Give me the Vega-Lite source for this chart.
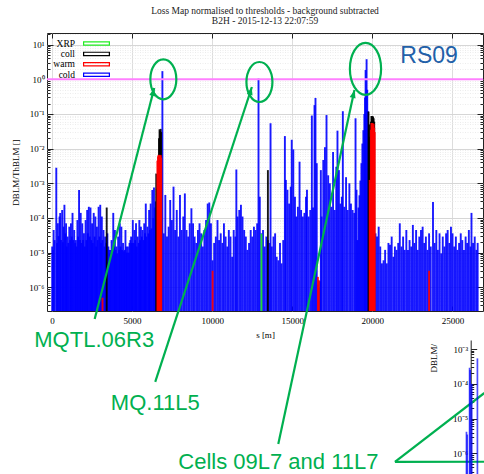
{
  "$schema": "https://vega.github.io/schema/vega-lite/v6.json",
  "autosize": {"type": "none"},
  "padding": {"left": 47, "top": 33, "right": 1, "bottom": 163},
  "width": 436,
  "height": 278,
  "title": {
    "text": ["Loss Map normalised to thresholds - background subtracted", "B2H - 2015-12-13 22:07:59"],
    "font": "Liberation Serif", "fontSize": 9.5, "fontWeight": "normal", "color": "#222",
    "anchor": "middle", "frame": "group", "offset": 5, "lineHeight": 10
  },
  "config": {
    "font": "Liberation Serif",
    "axis": {"labelFontSize": 9, "titleFontSize": 9, "titleFontWeight": "normal", "labelColor": "#000", "titleColor": "#000", "domainColor": "#222", "tickColor": "#222", "labelFont": "Liberation Serif", "titleFont": "Liberation Serif"}
  },
  "view": {"stroke": "#222", "strokeWidth": 1},
  "datasets": {
    "bars": [
      {"s":12,"v":1.5e-5,"t":"cold"},{"s":61,"v":1.2e-5,"t":"cold"},{"s":104,"v":4.5e-5,"t":"cold"},{"s":165,"v":2.3e-5,"t":"cold"},{"s":268,"v":2.8e-3,"t":"cold"},{"s":317,"v":1.9e-5,"t":"cold"},{"s":366,"v":7.0e-5,"t":"cold"},{"s":409,"v":3.0e-5,"t":"cold"},{"s":470,"v":1.1e-4,"t":"cold"},{"s":512,"v":1.4e-4,"t":"cold"},{"s":561,"v":2.3e-5,"t":"cold"},{"s":634,"v":1.7e-4,"t":"cold"},{"s":683,"v":2.0e-5,"t":"cold"},{"s":726,"v":5.6e-5,"t":"cold"},{"s":775,"v":2.4e-4,"t":"cold"},{"s":836,"v":3.6e-5,"t":"cold"},{"s":878,"v":7.0e-5,"t":"cold"},{"s":927,"v":1.5e-5,"t":"cold"},{"s":976,"v":2.9e-5,"t":"cold"},{"s":1019,"v":1.9e-5,"t":"cold"},{"s":1080,"v":5.6e-5,"t":"cold"},{"s":1141,"v":2.3e-5,"t":"cold"},{"s":1183,"v":7.0e-5,"t":"cold"},{"s":1232,"v":2.9e-5,"t":"cold"},{"s":1281,"v":1.4e-4,"t":"cold"},{"s":1324,"v":2.3e-5,"t":"cold"},{"s":1385,"v":4.5e-5,"t":"cold"},{"s":1446,"v":1.9e-5,"t":"cold"},{"s":1488,"v":2.3e-5,"t":"cold"},{"s":1537,"v":1.5e-5,"t":"cold"},{"s":1586,"v":8.7e-5,"t":"cold"},{"s":1629,"v":2.9e-5,"t":"cold"},{"s":1690,"v":6.4e-4,"t":"cold"},{"s":1751,"v":2.3e-5,"t":"cold"},{"s":1793,"v":1.4e-4,"t":"cold"},{"s":1842,"v":1.9e-5,"t":"cold"},{"s":1891,"v":7.0e-5,"t":"cold"},{"s":1934,"v":2.3e-5,"t":"cold"},{"s":1995,"v":3.6e-5,"t":"cold"},{"s":2056,"v":1.5e-5,"t":"cold"},{"s":2098,"v":8.7e-5,"t":"cold"},{"s":2147,"v":2.3e-5,"t":"cold"},{"s":2196,"v":1.7e-4,"t":"cold"},{"s":2239,"v":3.6e-5,"t":"cold"},{"s":2300,"v":2.1e-4,"t":"cold"},{"s":2361,"v":2.9e-5,"t":"cold"},{"s":2403,"v":2.0e-4,"t":"cold"},{"s":2452,"v":2.3e-5,"t":"cold"},{"s":2501,"v":7.0e-5,"t":"cold"},{"s":2544,"v":1.9e-5,"t":"cold"},{"s":2605,"v":1.4e-4,"t":"cold"},{"s":2666,"v":2.9e-5,"t":"cold"},{"s":2708,"v":1.1e-4,"t":"cold"},{"s":2757,"v":1.5e-5,"t":"cold"},{"s":2806,"v":5.6e-5,"t":"cold"},{"s":2849,"v":2.3e-5,"t":"cold"},{"s":2910,"v":2.1e-4,"t":"cold"},{"s":2971,"v":2.9e-5,"t":"cold"},{"s":3013,"v":2.4e-4,"t":"cold"},{"s":3062,"v":1.9e-5,"t":"cold"},{"s":3111,"v":1.1e-4,"t":"cold"},{"s":3154,"v":2.3e-5,"t":"cold"},{"s":3215,"v":4.5e-5,"t":"cold"},{"s":3276,"v":1.5e-5,"t":"cold"},{"s":3318,"v":2.9e-5,"t":"cold"},{"s":3367,"v":1.9e-5,"t":"cold"},{"s":3459,"v":3.6e-5,"t":"cold"},{"s":3520,"v":1.5e-5,"t":"cold"},{"s":3569,"v":1.2e-5,"t":"cold"},{"s":3623,"v":9.5e-6,"t":"cold"},{"s":3672,"v":1.2e-5,"t":"cold"},{"s":3721,"v":2.3e-5,"t":"cold"},{"s":3776,"v":1.1e-5,"t":"cold"},{"s":3825,"v":1.4e-4,"t":"cold"},{"s":3886,"v":1.5e-5,"t":"cold"},{"s":3928,"v":4.5e-5,"t":"cold"},{"s":3977,"v":1.2e-5,"t":"cold"},{"s":4026,"v":1.5e-5,"t":"cold"},{"s":4069,"v":9.5e-6,"t":"cold"},{"s":4130,"v":2.9e-5,"t":"cold"},{"s":4191,"v":1.2e-5,"t":"cold"},{"s":4233,"v":7.0e-5,"t":"cold"},{"s":4282,"v":1.5e-5,"t":"cold"},{"s":4331,"v":5.6e-5,"t":"cold"},{"s":4374,"v":1.2e-5,"t":"cold"},{"s":4435,"v":1.9e-5,"t":"cold"},{"s":4496,"v":1.1e-5,"t":"cold"},{"s":4538,"v":1.2e-5,"t":"cold"},{"s":4587,"v":4.5e-5,"t":"cold"},{"s":4636,"v":1.5e-5,"t":"cold"},{"s":4679,"v":1.0e-5,"t":"cold"},{"s":4740,"v":1.5e-5,"t":"cold"},{"s":4801,"v":1.0e-5,"t":"cold"},{"s":4843,"v":1.9e-5,"t":"cold"},{"s":4892,"v":2.3e-5,"t":"cold"},{"s":4941,"v":2.9e-5,"t":"cold"},{"s":4996,"v":1.9e-5,"t":"cold"},{"s":5045,"v":8.7e-5,"t":"cold"},{"s":5106,"v":1.9e-5,"t":"cold"},{"s":5148,"v":4.5e-5,"t":"cold"},{"s":5197,"v":2.3e-5,"t":"cold"},{"s":5246,"v":7.0e-5,"t":"cold"},{"s":5289,"v":1.5e-5,"t":"cold"},{"s":5350,"v":2.9e-5,"t":"cold"},{"s":5411,"v":1.9e-5,"t":"cold"},{"s":5453,"v":8.7e-5,"t":"cold"},{"s":5502,"v":2.3e-5,"t":"cold"},{"s":5551,"v":5.6e-5,"t":"cold"},{"s":5606,"v":2.9e-5,"t":"cold"},{"s":5655,"v":4.5e-5,"t":"cold"},{"s":5716,"v":2.3e-5,"t":"cold"},{"s":5758,"v":7.0e-5,"t":"cold"},{"s":5807,"v":3.6e-5,"t":"cold"},{"s":5856,"v":2.6e-4,"t":"cold"},{"s":5899,"v":2.9e-5,"t":"cold"},{"s":5960,"v":5.6e-5,"t":"cold"},{"s":6021,"v":3.6e-5,"t":"cold"},{"s":6063,"v":1.7e-4,"t":"cold"},{"s":6112,"v":4.5e-5,"t":"cold"},{"s":6161,"v":2.6e-4,"t":"cold"},{"s":6216,"v":5.0e-5,"t":"cold"},{"s":6265,"v":6.4e-4,"t":"cold"},{"s":6326,"v":1.0e-4,"t":"cold"},{"s":6368,"v":7.5e-4,"t":"cold"},{"s":6417,"v":2.0e-4,"t":"cold"},{"s":6466,"v":3.0e-4,"t":"cold"},{"s":6893,"v":1.72,"t":"cold"},
      {"s":6978,"v":3.6e-5,"t":"cold"},{"s":7076,"v":4.6e-4,"t":"cold"},{"s":7180,"v":2.9e-5,"t":"cold"},{"s":7283,"v":5.6e-5,"t":"cold"},{"s":7381,"v":3.3e-4,"t":"cold"},{"s":7485,"v":8.7e-5,"t":"cold"},{"s":7588,"v":8.0e-4,"t":"cold"},{"s":7686,"v":4.5e-5,"t":"cold"},{"s":7790,"v":1.7e-4,"t":"cold"},{"s":7893,"v":2.9e-5,"t":"cold"},{"s":7991,"v":4.6e-4,"t":"cold"},{"s":8095,"v":4.5e-5,"t":"cold"},{"s":8198,"v":1.1e-4,"t":"cold"},{"s":8296,"v":5.1e-4,"t":"cold"},{"s":8400,"v":4.5e-5,"t":"cold"},{"s":8503,"v":2.9e-5,"t":"cold"},{"s":8601,"v":7.0e-5,"t":"cold"},{"s":8705,"v":1.9e-4,"t":"cold"},{"s":8808,"v":7.0e-5,"t":"cold"},{"s":8906,"v":2.9e-5,"t":"cold"},{"s":9010,"v":1.9e-5,"t":"cold"},{"s":9113,"v":4.5e-5,"t":"cold"},{"s":9211,"v":7.0e-5,"t":"cold"},{"s":9315,"v":3.6e-5,"t":"cold"},{"s":9418,"v":1.5e-5,"t":"cold"},{"s":9516,"v":4.5e-5,"t":"cold"},{"s":9620,"v":8.7e-5,"t":"cold"},{"s":9723,"v":2.6e-4,"t":"cold"},{"s":9821,"v":2.8e-4,"t":"cold"},{"s":9925,"v":7.0e-5,"t":"cold"},{"s":10028,"v":6.0e-6,"t":"cold"},{"s":10126,"v":1.9e-5,"t":"cold"},{"s":10230,"v":2.9e-5,"t":"cold"},{"s":10333,"v":8.7e-5,"t":"cold"},{"s":10431,"v":2.3e-5,"t":"cold"},{"s":10535,"v":3.6e-5,"t":"cold"},{"s":10638,"v":1.9e-5,"t":"cold"},{"s":10736,"v":7.0e-5,"t":"cold"},{"s":10840,"v":2.9e-5,"t":"cold"},{"s":10943,"v":1.5e-5,"t":"cold"},{"s":11041,"v":4.5e-5,"t":"cold"},{"s":11145,"v":2.9e-5,"t":"cold"},{"s":11248,"v":7.6e-6,"t":"cold"},{"s":11346,"v":4.5e-5,"t":"cold"},{"s":11450,"v":2.9e-5,"t":"cold"},{"s":11511,"v":2.5e-3,"t":"cold"},{"s":11590,"v":1.1e-4,"t":"cold"},{"s":11694,"v":1.7e-4,"t":"cold"},{"s":11797,"v":2.4e-4,"t":"cold"},{"s":11895,"v":1.1e-4,"t":"cold"},{"s":11999,"v":4.5e-5,"t":"cold"},{"s":12102,"v":2.9e-5,"t":"cold"},{"s":12200,"v":1.2e-5,"t":"cold"},{"s":12304,"v":1.9e-5,"t":"cold"},{"s":12407,"v":4.5e-5,"t":"cold"},{"s":12505,"v":2.9e-5,"t":"cold"},{"s":12609,"v":5.6e-5,"t":"cold"},{"s":12712,"v":4.5e-5,"t":"cold"},{"s":12810,"v":7.0e-5,"t":"cold"},{"s":12895,"v":1.05,"t":"cold"},
      {"s":12975,"v":4.1e-4,"t":"cold"},{"s":13078,"v":3.6e-5,"t":"cold"},{"s":13176,"v":4.5e-5,"t":"cold"},{"s":13280,"v":1.5e-5,"t":"cold"},{"s":13383,"v":2.9e-5,"t":"cold"},{"s":13481,"v":2.3e-5,"t":"cold"},{"s":13585,"v":1.9e-5,"t":"cold"},{"s":13646,"v":5.4e-2,"t":"cold"},{"s":13725,"v":1.5e-5,"t":"cold"},{"s":13829,"v":2.9e-5,"t":"cold"},{"s":13932,"v":3.6e-5,"t":"cold"},{"s":14030,"v":7.6e-6,"t":"cold"},{"s":14134,"v":6.0e-6,"t":"cold"},{"s":14237,"v":1.9e-5,"t":"cold"},{"s":14335,"v":4.9e-6,"t":"cold"},{"s":14439,"v":2.3e-5,"t":"cold"},{"s":14542,"v":2.3e-2,"t":"cold"},{"s":14603,"v":1.25e-3,"t":"cold"},{"s":14701,"v":6.5e-4,"t":"cold"},{"s":14805,"v":2.6e-4,"t":"cold"},{"s":14908,"v":8.0e-4,"t":"cold"},{"s":14969,"v":1.8e-2,"t":"cold"},{"s":15067,"v":9.5e-3,"t":"cold"},{"s":15171,"v":4.1e-4,"t":"cold"},{"s":15250,"v":1.1e-4,"t":"cold"},{"s":15354,"v":2.1e-4,"t":"cold"},{"s":15457,"v":4.2e-3,"t":"cold"},{"s":15555,"v":1.7e-4,"t":"cold"},{"s":15659,"v":1.1e-4,"t":"cold"},{"s":15762,"v":1.4e-4,"t":"cold"},{"s":15860,"v":4.1e-4,"t":"cold"},{"s":15921,"v":6.5e-4,"t":"cold"},{"s":16025,"v":1.1e-4,"t":"cold"},{"s":16128,"v":1.7e-4,"t":"cold"},{"s":16226,"v":0.09,"t":"cold"},{"s":16300,"v":2.0e-4,"t":"cold"},{"s":16391,"v":0.18,"t":"cold"},{"s":16452,"v":0.29,"t":"cold"},{"s":16531,"v":3.8e-3,"t":"cold"},{"s":16604,"v":1.2e-6,"t":"cold"},{"s":16665,"v":1.0e-6,"t":"cold"},{"s":16738,"v":1.5e-6,"t":"cold"},{"s":16787,"v":2.4e-3,"t":"cold"},{"s":16836,"v":1.1e-4,"t":"cold"},{"s":16940,"v":4.7e-3,"t":"cold"},{"s":17043,"v":1.1e-2,"t":"cold"},{"s":17141,"v":0.093,"t":"cold"},{"s":17245,"v":1.7e-3,"t":"cold"},{"s":17348,"v":1.0e-3,"t":"cold"},{"s":17446,"v":2.1e-4,"t":"cold"},{"s":17550,"v":8.0e-3,"t":"cold"},{"s":17653,"v":1.7e-4,"t":"cold"},{"s":17751,"v":3.0e-3,"t":"cold"},{"s":17825,"v":3.3e-2,"t":"cold"},{"s":17916,"v":2.4e-3,"t":"cold"},{"s":18007,"v":2.6e-4,"t":"cold"},{"s":18099,"v":4.1e-4,"t":"cold"},{"s":18160,"v":0.12,"t":"cold"},{"s":18251,"v":2.1e-4,"t":"cold"},{"s":18361,"v":1.5e-3,"t":"cold"},{"s":18465,"v":1.7e-4,"t":"cold"},{"s":18568,"v":1.0e-3,"t":"cold"},{"s":18666,"v":2.6e-4,"t":"cold"},{"s":18770,"v":1.7e-4,"t":"cold"},{"s":18873,"v":1.4e-4,"t":"cold"},{"s":18953,"v":0.075,"t":"cold"},{"s":19014,"v":6.5e-4,"t":"cold"},{"s":19075,"v":2.3e-5,"t":"cold"},{"s":19136,"v":2.0e-4,"t":"cold"},{"s":19197,"v":4.5e-4,"t":"cold"},{"s":19258,"v":1.2e-3,"t":"cold"},{"s":19319,"v":3.8e-3,"t":"cold"},{"s":19380,"v":1.4e-2,"t":"cold"},{"s":19441,"v":3.4e-2,"t":"cold"},{"s":19502,"v":0.1,"t":"cold"},{"s":19545,"v":0.3,"t":"cold"},{"s":19582,"v":1.85,"t":"cold"},{"s":19643,"v":3.8,"t":"cold"},{"s":19685,"v":0.5,"t":"cold"},{"s":19728,"v":0.12,"t":"cold"},{"s":19770,"v":1.5e-2,"t":"cold"},{"s":19800,"v":6.0e-3,"t":"cold"},{"s":20200,"v":3.6e-5,"t":"cold"},
      {"s":20295,"v":2.9e-5,"t":"cold"},{"s":20398,"v":5.6e-5,"t":"cold"},{"s":20496,"v":1.5e-5,"t":"cold"},{"s":20600,"v":4.9e-6,"t":"cold"},{"s":20703,"v":6.0e-6,"t":"cold"},{"s":20801,"v":1.2e-5,"t":"cold"},{"s":20905,"v":4.9e-6,"t":"cold"},{"s":21008,"v":1.9e-5,"t":"cold"},{"s":21106,"v":1.7e-5,"t":"cold"},{"s":21210,"v":2.9e-5,"t":"cold"},{"s":21313,"v":7.6e-6,"t":"cold"},{"s":21411,"v":1.5e-5,"t":"cold"},{"s":21515,"v":1.2e-5,"t":"cold"},{"s":21618,"v":1.9e-5,"t":"cold"},{"s":21716,"v":7.0e-5,"t":"cold"},{"s":21820,"v":1.5e-5,"t":"cold"},{"s":21923,"v":2.9e-5,"t":"cold"},{"s":22021,"v":1.2e-5,"t":"cold"},{"s":22125,"v":4.5e-5,"t":"cold"},{"s":22228,"v":1.2e-5,"t":"cold"},{"s":22326,"v":2.3e-5,"t":"cold"},{"s":22430,"v":1.5e-5,"t":"cold"},{"s":22533,"v":6.3e-5,"t":"cold"},{"s":22631,"v":1.9e-5,"t":"cold"},{"s":22735,"v":4.5e-5,"t":"cold"},{"s":22838,"v":1.2e-5,"t":"cold"},{"s":22936,"v":2.9e-5,"t":"cold"},{"s":23040,"v":4.5e-5,"t":"cold"},{"s":23143,"v":5.6e-5,"t":"cold"},{"s":23241,"v":1.9e-5,"t":"cold"},{"s":23345,"v":2.9e-5,"t":"cold"},{"s":23448,"v":1.2e-5,"t":"cold"},{"s":23546,"v":3.6e-5,"t":"cold"},{"s":23650,"v":1.5e-5,"t":"cold"},{"s":23790,"v":2.9e-4,"t":"cold"},{"s":23894,"v":1.9e-5,"t":"cold"},{"s":23997,"v":4.5e-5,"t":"cold"},{"s":24095,"v":1.2e-5,"t":"cold"},{"s":24199,"v":3.6e-5,"t":"cold"},{"s":24302,"v":9.5e-6,"t":"cold"},{"s":24400,"v":2.9e-5,"t":"cold"},{"s":24504,"v":1.5e-5,"t":"cold"},{"s":24607,"v":3.6e-5,"t":"cold"},{"s":24705,"v":4.5e-5,"t":"cold"},{"s":24809,"v":1.9e-5,"t":"cold"},{"s":24912,"v":5.6e-5,"t":"cold"},{"s":25010,"v":3.6e-5,"t":"cold"},{"s":25114,"v":1.5e-5,"t":"cold"},{"s":25217,"v":2.9e-5,"t":"cold"},{"s":25315,"v":1.2e-5,"t":"cold"},{"s":25419,"v":1.9e-5,"t":"cold"},{"s":25522,"v":3.6e-5,"t":"cold"},{"s":25620,"v":2.3e-5,"t":"cold"},{"s":25724,"v":1.2e-5,"t":"cold"},{"s":25827,"v":2.9e-5,"t":"cold"},{"s":25925,"v":1.9e-5,"t":"cold"},{"s":26029,"v":4.5e-5,"t":"cold"},{"s":26132,"v":1.5e-5,"t":"cold"},{"s":26193,"v":1.4e-4,"t":"cold"},{"s":26291,"v":1.9e-5,"t":"cold"},{"s":26395,"v":2.9e-5,"t":"cold"},{"s":26498,"v":1.2e-5,"t":"cold"},{"s":26578,"v":1.9e-5,"t":"cold"},
      {"s":3416,"v":2.0e-4,"t":"coll"},{"s":6509,"v":1.9e-3,"t":"coll"},{"s":6545,"v":7.0e-4,"t":"coll"},{"s":6680,"v":2.0e-2,"t":"coll"},{"s":6715,"v":3.6e-2,"t":"coll"},{"s":6750,"v":3.2e-2,"t":"coll"},{"s":6785,"v":3.7e-2,"t":"coll"},{"s":6815,"v":3.0e-2,"t":"coll"},{"s":13481,"v":2.4e-3,"t":"coll"},{"s":19764,"v":0.117,"t":"coll"},{"s":19800,"v":5.0e-2,"t":"coll"},{"s":19837,"v":2.2e-2,"t":"coll"},{"s":19870,"v":2.0e-2,"t":"coll"},{"s":19910,"v":6.0e-2,"t":"coll"},{"s":19945,"v":8.7e-2,"t":"coll"},{"s":19980,"v":8.8e-2,"t":"coll"},{"s":20015,"v":8.0e-2,"t":"coll"},{"s":20050,"v":8.5e-2,"t":"coll"},{"s":20085,"v":7.5e-2,"t":"coll"},{"s":20120,"v":6.0e-2,"t":"coll"},
      {"s":3154,"v":5.0e-7,"t":"warm"},{"s":6580,"v":4.5e-3,"t":"warm"},{"s":6615,"v":6.0e-3,"t":"warm"},{"s":6650,"v":6.6e-3,"t":"warm"},{"s":6685,"v":6.3e-3,"t":"warm"},{"s":6720,"v":6.6e-3,"t":"warm"},{"s":6755,"v":6.0e-3,"t":"warm"},{"s":6790,"v":6.5e-3,"t":"warm"},{"s":6820,"v":5.5e-3,"t":"warm"},{"s":10028,"v":3.0e-6,"t":"warm"},{"s":16604,"v":2.0e-6,"t":"warm"},{"s":16665,"v":1.6e-6,"t":"warm"},{"s":19837,"v":1.25e-3,"t":"warm"},{"s":19870,"v":1.0e-3,"t":"warm"},{"s":19910,"v":3.5e-2,"t":"warm"},{"s":19945,"v":5.5e-2,"t":"warm"},{"s":19980,"v":5.0e-2,"t":"warm"},{"s":20015,"v":5.5e-2,"t":"warm"},{"s":20050,"v":4.5e-2,"t":"warm"},{"s":20085,"v":5.2e-2,"t":"warm"},{"s":20120,"v":4.0e-2,"t":"warm"},{"s":20150,"v":3.0e-2,"t":"warm"},{"s":23546,"v":3.0e-6,"t":"warm"},
      {"s":13078,"v":3.5e-5,"t":"XRP"}
    ],
    "arrows": [
      {"s":2665,"v":1.22e-7,"s2":6385,"v2":0.561},
      {"s":6446,"v":1.86e-9,"s2":12483,"v2":0.600},
      {"s":14129,"v":3.03e-11,"s2":18885,"v2":0.491},
      {"s":21414,"v":9.16e-12,"s2":27000,"v2":8.95e-10},
      {"s":21414,"v":9.16e-12,"s2":27000,"v2":9.27e-12}
    ],
    "heads": [{"s":6322,"v":0.434},{"s":12405,"v":0.466},{"s":18834,"v":0.379}],
    "rings": [{"s":6952,"v":1.0},{"s":12952,"v":0.836}],
    "bigring": [{"s":19575,"v":2.01}],
    "labels": [
      {"s":2635,"v":1.94e-8,"label":"MQTL.06R3"},
      {"s":6448,"v":2.89e-10,"label":"MQ.11L5"},
      {"s":14134,"v":5.75e-12,"label":"Cells 09L7 and 11L7"}
    ],
    "tag": [{"s":23546,"v":2.89,"label":"RS09"}],
    "inset": [
      {"s":19521,"v":4.2e-6},{"s":19525,"v":3.5e-6},{"s":19537,"v":2.9e-4},{"s":19540,"v":2.5e-4},{"s":19548,"v":1.0e-4},{"s":19577,"v":5.4e-4}
    ]
  },
  "resolve": {"scale": {"x": "independent", "y": "independent"}},
  "layer": [
    {
      "resolve": {"axis": {"x": "independent", "y": "independent"}},
      "layer": [
        {
          "data": {"name": "bars"},
          "mark": {"type": "bar", "size": 1.9, "opacity": 0.9},
          "encoding": {
            "x": {"field": "s", "type": "quantitative",
              "scale": {"domain": [0, 26600], "nice": false, "zero": false},
              "axis": {"title": "s [m]", "values": [0,5000,10000,15000,20000,25000], "format": "d", "tickSize": -5, "labelPadding": 10, "titlePadding": 5, "grid": true, "gridColor": "#dddddd", "domain": false, "labelFlush": false}},
            "y": {"field": "v", "type": "quantitative", "stack": null,
              "scale": {"type": "log", "domain": [2.07e-7, 21.65], "nice": false},
              "axis": {
                "title": "DBLM/ThBLM []",
                "values": [3e-7,4e-7,5e-7,6e-7,7e-7,8e-7,9e-7,1e-6,2e-6,3e-6,4e-6,5e-6,6e-6,7e-6,8e-6,9e-6,1e-5,2e-5,3e-5,4e-5,5e-5,6e-5,7e-5,8e-5,9e-5,1e-4,2e-4,3e-4,4e-4,5e-4,6e-4,7e-4,8e-4,9e-4,1e-3,2e-3,3e-3,4e-3,5e-3,6e-3,7e-3,8e-3,9e-3,0.01,0.02,0.03,0.04,0.05,0.06,0.07,0.08,0.09,0.1,0.2,0.3,0.4,0.5,0.6,0.7,0.8,0.9,1,2,3,4,5,6,7,8,9,10,20],
                "labelExpr": "abs(log(datum.value)/LN10 - round(log(datum.value)/LN10)) > 0.001 ? '' : ['10⁻⁶','10⁻⁵','10⁻⁴','10⁻³','10⁻²','10⁻¹','10⁰','10¹'][round(log(datum.value)/LN10)+6]",
                "labelOverlap": false, "labelBound": false, "labelFlush": false,
                "tickSize": {"condition": {"test": "abs(log(datum.value)/LN10 - round(log(datum.value)/LN10)) < 0.001", "value": -6}, "value": -3},
                "labelPadding": 9,
                "grid": true,
                "gridColor": {"condition": {"test": "abs(log(datum.value)/LN10 - round(log(datum.value)/LN10)) < 0.001", "value": "#d6d6d6"}, "value": "#ececec"},
                "gridDash": {"condition": {"test": "abs(log(datum.value)/LN10 - round(log(datum.value)/LN10)) < 0.001", "value": []}, "value": [1, 1.5]},
                "domain": false,
                "titlePadding": 8
              }},
            "y2": {"datum": 2.07e-7},
            "color": {"field": "t", "type": "nominal",
              "scale": {"domain": ["XRP", "coll", "warm", "cold"], "range": ["#22ee22", "#000000", "#ff0000", "#0000ff"]},
              "legend": {
                "orient": "none", "legendX": 44, "legendY": 5, "title": null,
                "symbolType": "M-3,-0.5H3V0.5H-3Z M-2.73,-0.23V0.23H2.73V-0.23Z", "symbolSize": 81, "symbolOpacity": 1,
                "labelAlign": "right", "labelOffset": -27, "rowPadding": 0.4, "padding": 0,
                "labelFont": "Liberation Serif", "labelFontSize": 9.5, "labelColor": "#000"
              }}
          }
        },
        {
          "data": {"values": [{"s": 0, "v": 1}]},
          "mark": {"type": "point", "opacity": 0},
          "encoding": {
            "x": {"field": "s", "type": "quantitative",
              "axis": {"orient": "top", "labels": false, "title": null, "values": [0,5000,10000,15000,20000,25000], "tickSize": -5, "grid": false, "domain": false}},
            "y": {"field": "v", "type": "quantitative",
              "axis": {"orient": "right", "labels": false, "title": null, "grid": false, "domain": false,
                "values": [3e-7,4e-7,5e-7,6e-7,7e-7,8e-7,9e-7,1e-6,2e-6,3e-6,4e-6,5e-6,6e-6,7e-6,8e-6,9e-6,1e-5,2e-5,3e-5,4e-5,5e-5,6e-5,7e-5,8e-5,9e-5,1e-4,2e-4,3e-4,4e-4,5e-4,6e-4,7e-4,8e-4,9e-4,1e-3,2e-3,3e-3,4e-3,5e-3,6e-3,7e-3,8e-3,9e-3,0.01,0.02,0.03,0.04,0.05,0.06,0.07,0.08,0.09,0.1,0.2,0.3,0.4,0.5,0.6,0.7,0.8,0.9,1,2,3,4,5,6,7,8,9,10,20],
                "tickSize": {"condition": {"test": "abs(log(datum.value)/LN10 - round(log(datum.value)/LN10)) < 0.001", "value": -6}, "value": -3}}}
          }
        },
        {
          "data": {"values": [{}]},
          "mark": {"type": "rule", "color": "#ff80ff", "strokeWidth": 2},
          "encoding": {"y": {"datum": 1, "type": "quantitative", "axis": null}}
        },
        {
          "data": {"name": "arrows"},
          "mark": {"type": "rule", "color": "#00b050", "strokeWidth": 2.2},
          "encoding": {
            "x": {"field": "s", "type": "quantitative", "axis": null},
            "y": {"field": "v", "type": "quantitative", "axis": null},
            "x2": {"field": "s2"},
            "y2": {"field": "v2"}
          }
        },
        {
          "data": {"name": "heads"},
          "mark": {"type": "point", "shape": "M0,-1L0.75,1L-0.75,1Z", "size": 64, "filled": true, "color": "#00b050", "opacity": 1, "angle": 15},
          "encoding": {
            "x": {"field": "s", "type": "quantitative", "axis": null},
            "y": {"field": "v", "type": "quantitative", "axis": null}
          }
        },
        {
          "data": {"name": "rings"},
          "mark": {"type": "point", "shape": "M0,-1A0.65,1 0 1,1 0,1A0.65,1 0 1,1 0,-1Z", "size": 1600, "filled": false, "color": "#00b050", "strokeWidth": 2.2, "opacity": 1},
          "encoding": {
            "x": {"field": "s", "type": "quantitative", "axis": null},
            "y": {"field": "v", "type": "quantitative", "axis": null}
          }
        },
        {
          "data": {"name": "bigring"},
          "mark": {"type": "point", "shape": "M0,-1A0.6,1 0 1,1 0,1A0.6,1 0 1,1 0,-1Z", "size": 2704, "filled": false, "color": "#00b050", "strokeWidth": 2.2, "opacity": 1},
          "encoding": {
            "x": {"field": "s", "type": "quantitative", "axis": null},
            "y": {"field": "v", "type": "quantitative", "axis": null}
          }
        },
        {
          "data": {"name": "labels"},
          "mark": {"type": "text", "font": "Liberation Sans", "fontSize": 22, "align": "center", "baseline": "alphabetic", "color": "#00b050"},
          "encoding": {
            "x": {"field": "s", "type": "quantitative", "axis": null},
            "y": {"field": "v", "type": "quantitative", "axis": null},
            "text": {"field": "label"}
          }
        },
        {
          "data": {"name": "tag"},
          "mark": {"type": "text", "font": "Liberation Sans", "fontSize": 23, "align": "center", "baseline": "alphabetic", "color": "#2260a8"},
          "encoding": {
            "x": {"field": "s", "type": "quantitative", "axis": null},
            "y": {"field": "v", "type": "quantitative", "axis": null},
            "text": {"field": "label"}
          }
        }
      ]
    },
    {
      "data": {"name": "inset"},
      "mark": {"type": "bar", "size": 1.7, "color": "#0000ff", "opacity": 0.7},
      "encoding": {
        "x": {"field": "s", "type": "quantitative", "scale": {"domain": [17400, 19580], "nice": false, "zero": false}, "axis": null},
        "y": {"field": "v", "type": "quantitative", "stack": null,
          "scale": {"type": "log", "domain": [2.57e-7, 1.82e-3], "nice": false, "range": [441, 307]},
          "axis": {
            "orient": "left",
            "offset": -423.7,
            "title": "DBLM/",
            "titleX": -37, "titleY": 339, "titleAngle": -90, "titleAlign": "left", "titleBaseline": "middle",
            "values": [3e-7,4e-7,5e-7,6e-7,7e-7,8e-7,9e-7,1e-6,2e-6,3e-6,4e-6,5e-6,6e-6,7e-6,8e-6,9e-6,1e-5,2e-5,3e-5,4e-5,5e-5,6e-5,7e-5,8e-5,9e-5,1e-4,2e-4,3e-4,4e-4,5e-4,6e-4,7e-4,8e-4,9e-4,1e-3],
            "labelExpr": "abs(log(datum.value)/LN10 - round(log(datum.value)/LN10)) > 0.001 ? '' : ['10⁻⁶','10⁻⁵','10⁻⁴','10⁻³'][round(log(datum.value)/LN10)+6]",
            "labelOverlap": false, "labelBound": false, "labelFlush": false,
            "tickSize": {"condition": {"test": "abs(log(datum.value)/LN10 - round(log(datum.value)/LN10)) < 0.001", "value": -6}, "value": -3},
            "labelPadding": 9,
            "grid": false,
            "domain": true, "domainColor": "#222"
          }},
        "y2": {"datum": 2.57e-7}
      }
    }
  ]
}
